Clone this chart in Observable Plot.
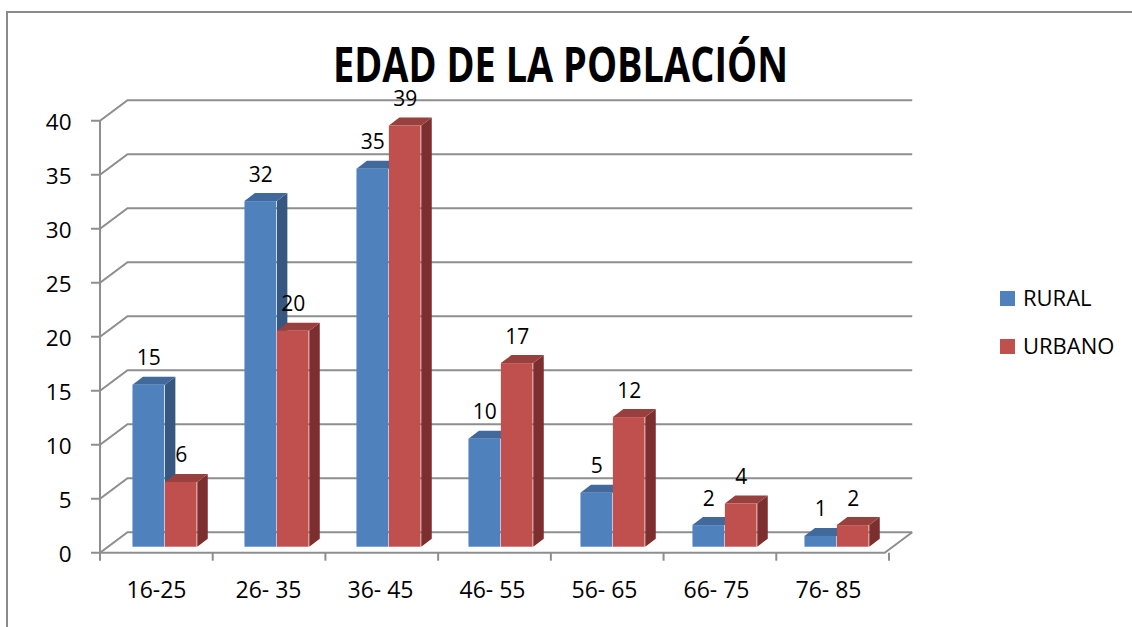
<!DOCTYPE html>
<html><head><meta charset="utf-8">
<script src="https://cdn.jsdelivr.net/npm/d3@7"></script>
<script src="https://cdn.jsdelivr.net/npm/@observablehq/plot@0.6"></script>
<style>
html,body{margin:0;padding:0;background:#fff;}
#wrap{position:relative;width:1132px;height:627px;overflow:hidden;font-family:"Open Sans",sans-serif;}
#frame{position:absolute;left:6px;top:11px;right:-10px;bottom:-10px;border-top:2px solid #8a8a8a;border-left:2px solid #8a8a8a;}
#chart{position:absolute;left:0;top:0;}
#overlay{position:absolute;left:0;top:0;pointer-events:none;}
</style></head><body>
<div id="wrap"><div id="frame"></div><div id="chart"></div><svg id="overlay" width="1132" height="627"></svg></div>
<script>
// ---- data ----
const title = "EDAD DE LA POBLACIÓN";
const categories = ["16-25", "26- 35", "36- 45", "46- 55", "56- 65", "66- 75", "76- 85"];
const series = ["RURAL", "URBANO"];
const rural = [15, 32, 35, 10, 5, 2, 1];
const urbano = [6, 20, 39, 17, 12, 4, 2];
const yTicks = [0, 5, 10, 15, 20, 25, 30, 35, 40];

// ---- styling ----
const colors = {RURAL: {front: "#4f81bd", side: "#36577f", top: "#41699c"},
                URBANO: {front: "#c0504d", side: "#7d2f2f", top: "#98403d"}};
const gridColor = "#8e8e8e";
const W = 1132, H = 627;
const mL = 97, mR = 246, mT = 120.7, mB = 74.3;
const bw = (W - mL - mR) / categories.length;
const OFF = 0.288, BW = 0.2875;         // bar offset / width as fraction of band
const DX = 10.5, DY = -8;               // bar depth
const GX = 27.5, GY = -20.5;            // wall depth
const LIFT = -6;                        // bars stand slightly inside the floor

const rows = categories.flatMap((c, i) => [
  {cat: c, serie: series[0], value: rural[i], k: 0},
  {cat: c, serie: series[1], value: urbano[i], k: 1}
]);

function grid3d(index, scales) {
  const x = scales.x, y = scales.y;
  const xL = x(categories[0]), xR = x(categories[categories.length - 1]) + bw;
  const y0 = y(0);
  const g = d3.create("svg:g").attr("stroke", gridColor).attr("stroke-width", 2).attr("fill", "none");
  for (const v of yTicks) {
    const yy = y(v);
    g.append("path").attr("d", `M${xL - 9},${yy}H${xL}L${xL + GX},${yy + GY}H${xR + GX}`);
  }
  g.append("path").attr("d", `M${xL},${y(yTicks[yTicks.length - 1])}V${y0}H${xR}L${xR + GX},${y0 + GY}`);
  for (let i = 0; i <= categories.length; i++) {
    const xx = xL + i * bw;
    g.append("path").attr("d", `M${xx},${y0}V${y0 + 8}`);
  }
  return g.node();
}

function barFaces(index, scales) {
  const x = scales.x, y = scales.y;
  const g = d3.create("svg:g");
  for (const r of rows) {
    const x0 = x(r.cat) + bw * (OFF + r.k * BW);
    const x1 = x0 + bw * BW;
    const yb = y(0) + LIFT, yt = y(r.value) + LIFT;
    g.append("polygon")
      .attr("points", [[x1, yb], [x1, yt], [x1 + DX, yt + DY], [x1 + DX, yb + DY]].map(p => p.join(",")).join(" "))
      .attr("fill", colors[r.serie].side);
    g.append("polygon")
      .attr("points", [[x0, yt], [x1, yt], [x1 + DX, yt + DY], [x0 + DX, yt + DY]].map(p => p.join(",")).join(" "))
      .attr("fill", colors[r.serie].top);
  }
  return g.node();
}

const marks = [grid3d, barFaces];
series.forEach((s, k) => {
  const data = rows.filter(r => r.serie === s);
  marks.push(Plot.barY(data, {
    x: "cat", y1: 0, y2: "value", fill: colors[s].front,
    insetLeft: bw * (OFF + k * BW), insetRight: bw * (1 - OFF - (k + 1) * BW), dy: LIFT
  }));
  marks.push(Plot.text(data, {
    x: "cat", y: "value", text: d => String(d.value),
    dx: bw * (OFF + k * BW + BW / 2 - 0.5), dy: LIFT - 20,
    lineAnchor: "bottom", textAnchor: "middle", fontSize: 21, fill: "#000"
  }));
});
marks.push(Plot.text(yTicks, {
  y: d => d, text: d => String(d), frameAnchor: "left", dx: -26,
  textAnchor: "end", lineAnchor: "middle", dy: 1.5, fontSize: 22.5, fill: "#000"
}));
marks.push(Plot.axisX({tickSize: 0, tickPadding: 28, fontSize: 23, label: null}));

const chart = Plot.plot({
  width: W, height: H,
  marginLeft: mL, marginRight: mR, marginTop: mT, marginBottom: mB,
  style: {fontFamily: "'Open Sans', sans-serif", color: "#000", background: "transparent", overflow: "visible"},
  x: {type: "band", domain: categories, padding: 0, label: null, axis: null},
  y: {domain: [0, 40], label: null, axis: null},
  marks
});
document.getElementById("chart").append(chart);

// ---- title and legend ----
const ov = d3.select("#overlay");
ov.append("text").attr("x", 333).attr("y", 82)
  .attr("font-family", "'Open Sans', sans-serif").attr("font-weight", "bold").attr("font-size", 48)
  .attr("textLength", 455).attr("lengthAdjust", "spacingAndGlyphs").attr("fill", "#000").text(title);
series.forEach((s, i) => {
  ov.append("rect").attr("x", 1000).attr("y", 291 + i * 48).attr("width", 15).attr("height", 15).attr("fill", colors[s].front);
  ov.append("text").attr("x", 1023).attr("y", 305.5 + i * 48)
    .attr("font-family", "'Open Sans', sans-serif").attr("font-size", 22).attr("fill", "#000").text(s);
});
</script>
</body></html>
